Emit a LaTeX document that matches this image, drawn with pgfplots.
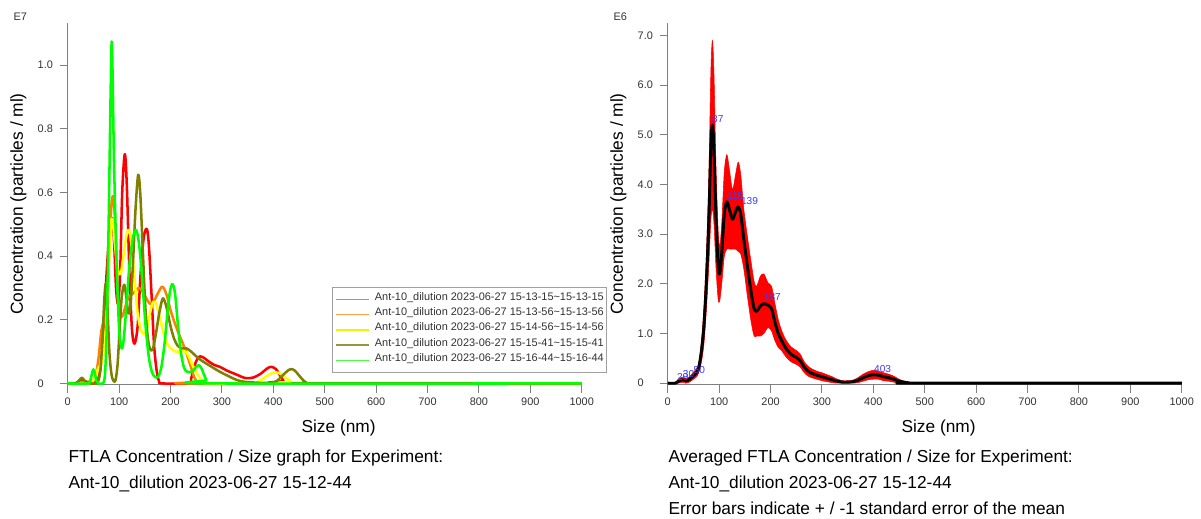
\documentclass[border=0pt]{standalone}
\usepackage{fontspec}
\setmainfont{Liberation Sans}
\usepackage{pgfplots}
\pgfplotsset{compat=1.18}
\definecolor{axgray}{RGB}{128,128,128}
\definecolor{tkgray}{RGB}{50,50,50}
\definecolor{cRed}{RGB}{255,0,0}
\definecolor{cOrange}{RGB}{255,128,0}
\definecolor{cYellow}{RGB}{255,255,0}
\definecolor{cOlive}{RGB}{128,128,0}
\definecolor{cGreen}{RGB}{0,255,0}
\definecolor{lRed}{RGB}{255,110,110}
\definecolor{lOrange}{RGB}{255,160,70}
\definecolor{lYellow}{RGB}{250,240,0}
\definecolor{lOlive}{RGB}{150,150,60}
\definecolor{lGreen}{RGB}{70,255,70}
\definecolor{pkblue}{RGB}{60,60,255}
\definecolor{lgbox}{RGB}{160,160,160}

\pgfplotstableread{
x y
0 0
15 0
20 0.005
25 0.012
30 0.01
35 0.005
45 0.003
55 0.005
62 0.03
68 0.12
74 0.3
80 0.45
86 0.52
90 0.45
94 0.3
98 0.25
102 0.35
106 0.6
111 0.72
115 0.62
120 0.35
125 0.17
130 0.125
136 0.18
142 0.35
148 0.46
154 0.485
158 0.43
163 0.28
168 0.12
173 0.04
178 0.005
183 0
235 0
240 0.015
245 0.045
250 0.07
257 0.085
265 0.08
275 0.068
285 0.058
296 0.052
310 0.04
328 0.028
345 0.017
360 0.018
375 0.03
388 0.047
396 0.052
405 0.045
413 0.025
420 0.008
427 0
1000 0
}\dRed

\pgfplotstableread{
x y
0 0
20 0
30 0.005
40 0.005
50 0.01
55 0.03
60 0.08
65 0.16
69 0.19
73 0.2
77 0.25
81 0.42
85 0.56
89 0.585
93 0.48
97 0.3
101 0.22
106 0.21
112 0.24
118 0.27
125 0.28
132 0.29
138 0.30
145 0.29
152 0.27
160 0.25
168 0.26
176 0.285
184 0.304
192 0.28
200 0.23
206 0.2
215 0.16
224 0.125
232 0.09
240 0.05
246 0.02
252 0.004
256 0
1000 0
}\dOrange

\pgfplotstableread{
x y
0 0
40 0
50 0.01
55 0.03
60 0.05
65 0.06
70 0.1
75 0.2
80 0.38
84 0.5
87 0.514
91 0.45
96 0.37
100 0.345
104 0.35
110 0.42
115 0.47
119 0.482
124 0.44
130 0.33
136 0.22
142 0.17
148 0.155
154 0.17
160 0.22
166 0.255
172 0.25
180 0.2
188 0.15
195 0.12
202 0.108
210 0.1
218 0.1
226 0.102
234 0.09
242 0.06
250 0.035
258 0.015
266 0.003
272 0
360 0
370 0.005
380 0.015
392 0.028
404 0.035
414 0.03
424 0.018
434 0.006
442 0
1000 0
}\dYellow

\pgfplotstableread{
x y
0 0
15 0
20 0.005
25 0.015
28 0.018
32 0.01
38 0.003
45 0
55 0
60 0.01
64 0.05
68 0.15
71 0.26
74 0.314
77 0.25
81 0.1
85 0.03
89 0.008
93 0.01
97 0.06
101 0.17
105 0.27
110 0.31
114 0.27
118 0.22
122 0.24
127 0.38
132 0.55
137 0.655
141 0.6
146 0.42
151 0.24
156 0.14
161 0.105
166 0.11
172 0.16
178 0.22
185 0.267
192 0.24
200 0.18
207 0.14
214 0.118
222 0.11
231 0.11
240 0.1
250 0.085
260 0.072
270 0.062
280 0.052
290 0.042
300 0.033
310 0.025
320 0.017
330 0.01
340 0.006
350 0.004
360 0.003
370 0.002
395 0.002
405 0.006
412 0.015
420 0.028
428 0.04
435 0.045
442 0.04
450 0.025
458 0.01
465 0.002
470 0
1000 0
}\dOlive

\pgfplotstableread{
x y
0 0
40 0
44 0.01
47 0.03
50 0.044
53 0.03
56 0.008
60 0
68 0
72 0.02
75 0.12
78 0.35
81 0.65
83.5 0.92
85.5 1.074
87.5 0.95
90 0.7
95 0.38
100 0.17
105 0.11
109 0.14
114 0.24
120 0.37
126 0.45
131 0.48
135 0.475
140 0.42
146 0.3
152 0.17
158 0.08
164 0.035
170 0.02
176 0.021
182 0.05
188 0.12
194 0.22
199 0.29
204 0.312
209 0.28
214 0.19
220 0.1
226 0.05
232 0.037
238 0.035
244 0.04
250 0.052
255 0.057
260 0.048
265 0.028
270 0.01
275 0
1000 0
}\dGreen

\pgfplotstableread{
x y
0 0
15 0
20 0.03
25 0.06
30 0.07
35 0.05
40 0.06
45 0.10
50 0.15
55 0.20
60 0.30
65 0.60
70 1.10
75 2.00
80 3.30
84 4.80
87 5.20
90 4.70
94 3.30
98 2.40
101 2.20
105 2.60
110 3.40
115 3.65
120 3.50
126 3.30
132 3.45
137 3.55
142 3.40
148 2.90
155 2.35
162 1.85
168 1.50
173 1.45
180 1.55
187 1.60
195 1.57
202 1.50
208 1.25
215 1.00
222 0.85
230 0.70
240 0.58
250 0.52
258 0.45
265 0.33
272 0.25
280 0.20
290 0.16
300 0.13
310 0.10
320 0.07
330 0.04
340 0.02
350 0.02
360 0.03
370 0.06
380 0.11
390 0.15
400 0.17
410 0.16
420 0.13
430 0.11
440 0.08
450 0.04
460 0.02
470 0.005
480 0
1000 0
}\dMean

\pgfplotsset{
  common/.style={
    scale only axis, width=385.5pt, height=271pt,
    axis x line=bottom, axis y line=left,
    axis line style={-, axgray, line width=0.8pt},
    xmin=0, xmax=1000, xtick={0,100,...,1000},
    minor tick num=0,
    tick align=outside, major tick length=6pt,
    tick style={axgray, line width=0.8pt},
    ticklabel style={font=\fontsize{8.2}{9}\selectfont, text=tkgray},
    /pgf/number format/assume math mode=true,
    /pgf/number format/1000 sep={},
    yticklabel style={text width=13pt, align=left},
    label style={font=\fontsize{13}{15}\selectfont},
    xlabel={Size (nm)},
    ylabel={Concentration (particles / ml)},
    xlabel style={at={(axis description cs:0.527,-0.12)}, anchor=center},
    ylabel style={at={(axis description cs:-0.096,0.5)}, anchor=center},
    clip=true,
  },
  crv/.style={smooth, tension=0.5, line width=1.9pt, line join=round, no markers, forget plot},
}
\newcommand{\lgentry}[1]{\hspace{4pt}\textcolor{tkgray}{Ant-10\_dilution 2023-06-27 #1}}

\begin{document}
\begin{tikzpicture}
\useasboundingbox (0,0) rectangle (900.75pt,388.5pt);

% ---------------- left ----------------
\begin{axis}[common,
  at={(50.8pt,100pt)}, anchor=south west,
  ymin=-0.004, ymax=1.131,
  ytick={0,0.2,0.4,0.6,0.8,1.0},
  yticklabels={0,0.2,0.4,0.6,0.8,1.0},
  legend style={at={(axis cs:513.6,0.302)}, anchor=north west,
    draw=lgbox, fill=white, line width=0.6pt,
    font=\fontsize{8.2}{9}\selectfont,
    inner xsep=2pt, inner ysep=4.5pt, row sep=2.94pt,
    nodes={inner sep=0pt, text height=5pt, text depth=3.5pt}},
  legend cell align=left,
  legend image code/.code={\draw[#1] (0pt,0pt) -- (25pt,0pt);},
]
\addplot[crv, cRed] table {\dRed};
\addplot[crv, cOrange] table {\dOrange};
\addplot[crv, cYellow] table {\dYellow};
\addplot[crv, cOlive] table {\dOlive};
\addplot[crv, cGreen] table {\dGreen};
\addlegendimage{color=lRed, line width=1.1pt}
\addlegendentry{\lgentry{15-13-15\textasciitilde 15-13-15}}
\addlegendimage{color=lOrange, line width=1.1pt}
\addlegendentry{\lgentry{15-13-56\textasciitilde 15-13-56}}
\addlegendimage{color=lYellow, line width=1.1pt}
\addlegendentry{\lgentry{15-14-56\textasciitilde 15-14-56}}
\addlegendimage{color=lOlive, line width=1.1pt}
\addlegendentry{\lgentry{15-15-41\textasciitilde 15-15-41}}
\addlegendimage{color=lGreen, line width=1.1pt}
\addlegendentry{\lgentry{15-16-44\textasciitilde 15-16-44}}
\end{axis}

% ---------------- right ----------------
\begin{axis}[common,
  at={(500.8pt,100pt)}, anchor=south west,
  ymin=-0.03, ymax=7.245,
  ytick={0,1,2,3,4,5,6,7},
  yticklabels={0,1.0,2.0,3.0,4.0,5.0,6.0,7.0},
]
\addplot[fill=red, draw=red, line width=0.4pt, smooth, tension=0.5] coordinates {
(15,0.02) (20,0.07) (25,0.11) (30,0.12) (35,0.10) (40,0.11) (45,0.16) (50,0.22)
(55,0.28) (60,0.40) (65,0.80) (70,1.45) (75,2.55) (80,4.20) (84,6.30) (87,6.90)
(90,6.20) (94,4.30) (98,3.10) (101,2.75) (105,3.20) (110,4.25) (115,4.60) (120,4.30)
(126,3.90) (132,4.20) (137,4.45) (142,4.20) (148,3.50) (155,2.95) (162,2.45) (168,2.05)
(173,1.95) (180,2.15) (187,2.20) (195,2.02) (202,1.95) (208,1.63) (215,1.28) (222,1.05)
(230,0.87) (240,0.73) (250,0.66) (258,0.58) (265,0.44) (272,0.35) (280,0.29) (290,0.24)
(300,0.21) (310,0.17) (320,0.13) (330,0.08) (340,0.05) (350,0.05) (360,0.06) (370,0.11)
(380,0.18) (390,0.23) (400,0.26) (410,0.24) (420,0.21) (430,0.18) (440,0.14) (450,0.08)
(460,0.04) (470,0.015) (480,0)
(470,0) (460,0) (450,0) (440,0.02) (430,0.04) (420,0.05) (410,0.08) (400,0.08)
(390,0.07) (380,0.04) (370,0.01) (360,0) (350,0) (340,0) (330,0) (320,0.01)
(310,0.03) (300,0.05) (290,0.08) (280,0.11) (272,0.15) (265,0.22) (258,0.32) (250,0.38)
(240,0.43) (230,0.53) (222,0.65) (215,0.72) (208,0.87) (202,1.05) (195,1.12) (187,1.00)
(180,0.95) (173,0.95) (168,0.95) (162,1.25) (155,1.75) (148,2.30) (142,2.60) (137,2.65)
(132,2.70) (126,2.70) (120,2.70) (115,2.70) (110,2.55) (105,2.00) (101,1.65) (98,1.70)
(94,2.30) (90,3.20) (87,3.50) (84,3.30) (80,2.40) (75,1.45) (70,0.75) (65,0.40)
(60,0.20) (55,0.12) (50,0.08) (45,0.04) (40,0.01) (35,0) (30,0.02) (25,0.01) (20,0)
} -- cycle;
\addplot[smooth, tension=0.5, black, line width=2.2pt, line join=round, no markers] table {\dMean};
\begin{scope}[every node/.style={font=\fontsize{7.6}{9}\selectfont, text=pkblue, inner sep=0pt, anchor=base west}]
\node at (axis cs:17.5,0.05) {20};
\node at (axis cs:29,0.12) {30};
\node at (axis cs:50,0.19) {50};
\node at (axis cs:86,5.24) {87};
\node at (axis cs:115,3.69) {115};
\node at (axis cs:142,3.6) {139};
\node at (axis cs:186.6,1.66) {187};
\node at (axis cs:401,0.21) {403};
\end{scope}
\end{axis}

% ---------------- texts ----------------
\begin{scope}[every node/.style={inner sep=0pt, anchor=base west}]
\node[font=\fontsize{8.2}{9}\selectfont, text=tkgray] at (10pt,373pt) {E7};
\node[font=\fontsize{8.2}{9}\selectfont, text=tkgray] at (460pt,373pt) {E6};
\node[font=\fontsize{13}{15}\selectfont] at (51.2pt,41.4pt) {FTLA Concentration / Size graph for Experiment:};
\node[font=\fontsize{13}{15}\selectfont] at (51.2pt,22.0pt) {Ant-10\_dilution 2023-06-27 15-12-44};
\node[font=\fontsize{13}{15}\selectfont] at (501.2pt,41.4pt) {Averaged FTLA Concentration / Size for Experiment:};
\node[font=\fontsize{13}{15}\selectfont] at (501.2pt,22.0pt) {Ant-10\_dilution 2023-06-27 15-12-44};
\node[font=\fontsize{13}{15}\selectfont] at (501.2pt,2.9pt) {Error bars indicate + / -1 standard error of the mean};
\end{scope}
\end{tikzpicture}
\end{document}
